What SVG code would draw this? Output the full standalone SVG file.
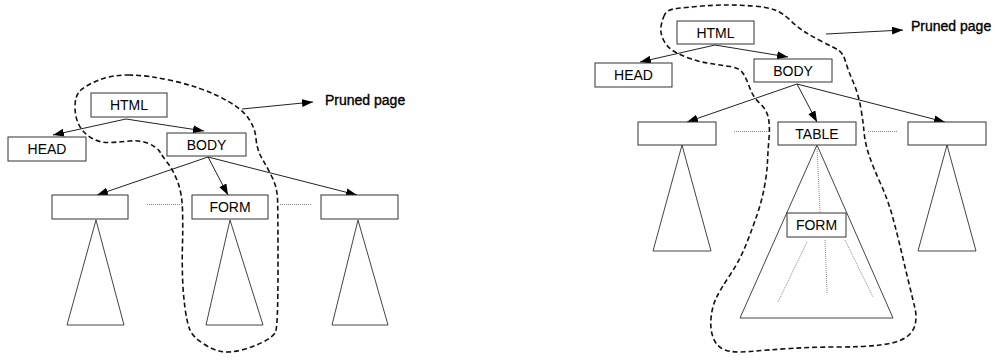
<svg xmlns="http://www.w3.org/2000/svg" width="995" height="360" viewBox="0 0 995 360">
<style>
.box{fill:#fff;stroke:#333;stroke-width:1}
.tri{fill:#fff;stroke:#444;stroke-width:1}
.lbl{font-family:"Liberation Sans",Arial,sans-serif;font-size:14px;text-anchor:middle;fill:#000}
.note{font-family:"Liberation Sans",Arial,sans-serif;font-size:14px;fill:#000;stroke:#000;stroke-width:0.35}
.edge{stroke:#222;stroke-width:1;fill:none;marker-end:url(#ah)}
.dot{stroke:#888;stroke-width:1;stroke-dasharray:1,1;fill:none}
.loop{stroke:#111;stroke-width:1.6;stroke-dasharray:5,3;fill:none}
</style>
<defs>
<marker id="ah" markerUnits="userSpaceOnUse" markerWidth="12" markerHeight="10" refX="11" refY="4" orient="auto">
<path d="M0,0 L11,4 L0,8 Z" fill="#000"/>
</marker>
</defs>
<rect width="995" height="360" fill="#fff"/>

<!-- Left diagram -->
<g id="left-triangles">
<polygon class="tri" points="96,220 67,325 124,325"/>
<polygon class="tri" points="230,220 206,325 263,325"/>
<polygon class="tri" points="358,220 332,325 388,325"/>
</g>
<g id="left-connectors">
<path class="edge" d="M126,119 L53,135"/>
<path class="edge" d="M126,119 L204,131"/>
<path class="edge" d="M208,157 L97,195"/>
<path class="edge" d="M208,157 L228,195"/>
<path class="edge" d="M208,157 L357,195"/>
<path class="edge" d="M242,109 L313,102"/>
<path class="dot" d="M147,204.5 L182,204.5"/>
<path class="dot" d="M280,204.5 L312,204.5"/>
</g>
<g id="left-loop">
<path class="loop" d="M128.5,75 Q147,75 173.5,81 Q200,87 220,97 Q240,107 247.5,117 Q255,127 256,138.5 Q257,150 262,158.5 Q267,167 272,177 Q277,187 277.5,198.5 Q278,210 278,268.5 Q278,327 275.5,332 Q273,337 263,342 Q253,347 241.5,350 Q230,353 221.5,351.5 Q213,350 203,343.5 Q193,337 190,330 Q187,323 185,308 Q183,293 182.5,276.5 Q182,260 182.5,243.5 Q183,227 182.5,210 Q182,193 177.5,181.5 Q173,170 168,163.5 Q163,157 160,152 Q157,147 148.5,143.5 Q140,140 130,141 Q120,142 110,142.5 Q100,143 91.5,138 Q83,133 79,125 Q75,117 75,107 Q75,97 79,92 Q83,87 96.5,81 Q110,75 128.5,75 Z"/>
</g>
<g id="l-html"><rect class="box" x="91" y="93" width="76" height="24"/><text class="lbl" x="129" y="110">HTML</text></g>
<g id="l-head"><rect class="box" x="8" y="137" width="78" height="24"/><text class="lbl" x="47" y="154">HEAD</text></g>
<g id="l-body"><rect class="box" x="167" y="133" width="79" height="23"/><text class="lbl" x="206.5" y="149.5">BODY</text></g>
<g id="l-c1"><rect class="box" x="52" y="195" width="76" height="24"/></g>
<g id="l-form"><rect class="box" x="192" y="195" width="76" height="24"/><text class="lbl" x="230" y="212">FORM</text></g>
<g id="l-c3"><rect class="box" x="321" y="195" width="77" height="24"/></g>
<g id="l-note"><text class="note" x="325" y="105">Pruned page</text></g>

<!-- Right diagram -->
<g id="right-triangles">
<polygon class="tri" points="682,145 653,251 711,251"/>
<polygon class="tri" points="817,145 740,318 893,318"/>
<polygon class="tri" points="947,145 918,251 976,251"/>
</g>
<g id="right-connectors">
<path class="edge" d="M715,45 L640,62"/>
<path class="edge" d="M715,45 L788,57"/>
<path class="edge" d="M797,84 L687,122"/>
<path class="edge" d="M797,84 L817,122"/>
<path class="edge" d="M797,84 L945,122"/>
<path class="edge" d="M826,34 L903,30"/>
<path class="dot" d="M734,131.5 L767,131.5"/>
<path class="dot" d="M868,131.5 L898,131.5"/>
<path class="dot" d="M817,147 L820,212"/>
<path class="dot" d="M807,242 L778,302"/>
<path class="dot" d="M825,240 L827,293"/>
<path class="dot" d="M845,240 L873,297"/>
</g>
<g id="right-loop">
<path class="loop" d="M664.5,15 Q662,20 661,26.5 Q660,33 663.5,40 Q667,47 673.5,51 Q680,55 690,58.5 Q700,62 710,63.5 Q720,65 730,66.5 Q740,68 743.5,74 Q747,80 750,88.5 Q753,97 760,103.5 Q767,110 768.5,118.5 Q770,127 769,138.5 Q768,150 767.5,161.5 Q767,173 764.5,186.5 Q762,200 757.5,213.5 Q753,227 746.5,243.5 Q740,260 730,275 Q720,290 716,298.5 Q712,307 711,318.5 Q710,330 713.5,338.5 Q717,347 725,350 Q733,353 750,351.5 Q767,350 790,348.5 Q813,347 838,347 Q863,347 880,345 Q897,343 905,338 Q913,333 915,325 Q917,317 915,308.5 Q913,300 909,283.5 Q905,267 901,250 Q897,233 892.5,216.5 Q888,200 880.5,183.5 Q873,167 869,155 Q865,143 864,131.5 Q863,120 860.5,106.5 Q858,93 853,81.5 Q848,70 845.5,61.5 Q843,53 838,50 Q833,47 823,42 Q813,37 805,32 Q797,27 790,20 Q783,13 775,10 Q767,7 753.5,6 Q740,5 726.5,5 Q713,5 696.5,6.5 Q680,8 673.5,9 Q667,10 664.5,15 Z"/>
</g>
<g id="r-html"><rect class="box" x="677" y="21" width="77" height="23"/><text class="lbl" x="715.5" y="37.5">HTML</text></g>
<g id="r-head"><rect class="box" x="595" y="63" width="77" height="24"/><text class="lbl" x="633.5" y="80">HEAD</text></g>
<g id="r-body"><rect class="box" x="754" y="59" width="78" height="23"/><text class="lbl" x="793" y="75.5">BODY</text></g>
<g id="r-c1"><rect class="box" x="638" y="122" width="78" height="23"/></g>
<g id="r-table"><rect class="box" x="778" y="122" width="78" height="23"/><text class="lbl" x="817" y="138.5">TABLE</text></g>
<g id="r-c3"><rect class="box" x="908" y="122" width="78" height="23"/></g>
<g id="r-form"><rect class="box" x="787" y="213" width="59" height="24"/><text class="lbl" x="816.5" y="230">FORM</text></g>
<g id="r-note"><text class="note" x="911" y="31">Pruned page</text></g>
</svg>
